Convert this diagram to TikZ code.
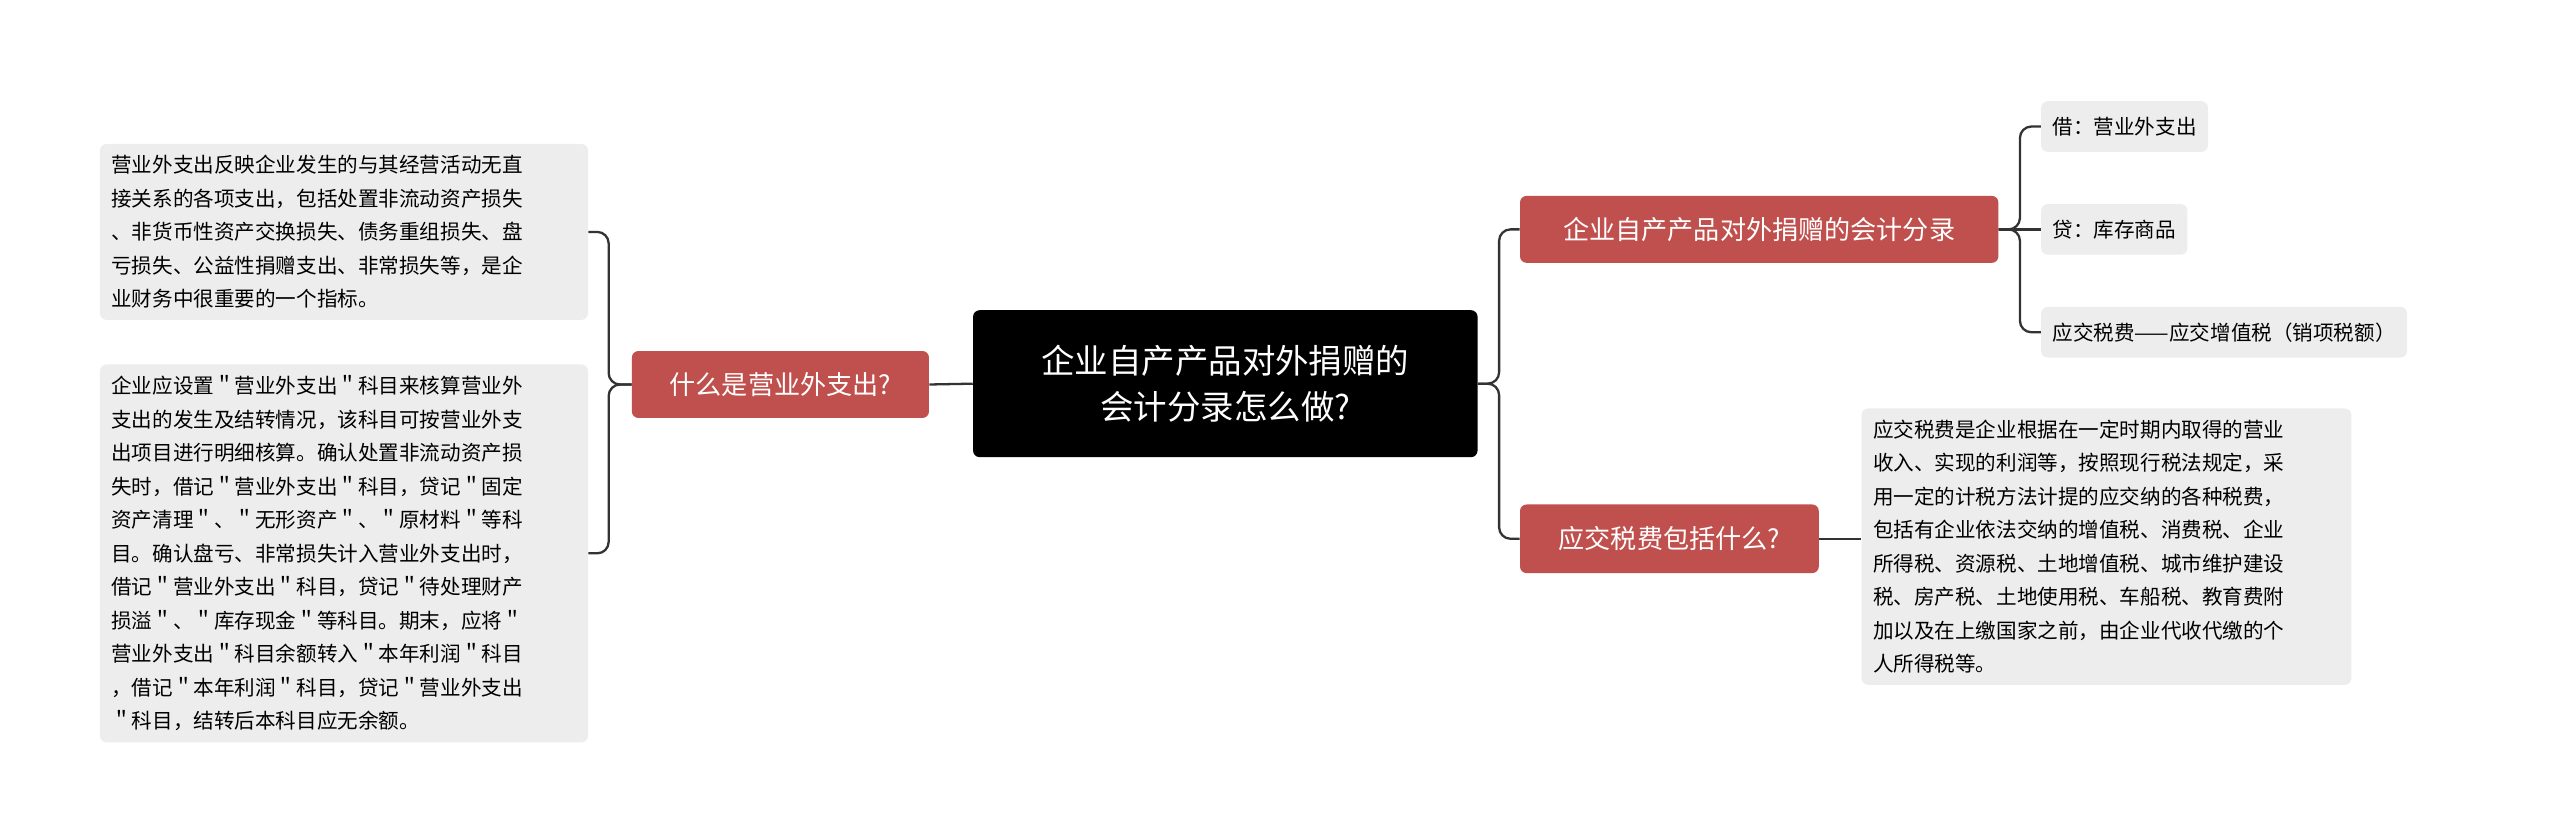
\documentclass[tikz,border=0pt]{standalone}
\usepackage{fontspec}
\setmainfont{Noto Sans CJK SC}
\begin{document}
\begin{tikzpicture}[x=1pt,y=-1pt,
  conn/.style={draw=black!80,line width=1.4pt,rounded corners=7pt},
  redbox/.style={fill=red!55!black!75!white,fill=black!0,draw=none,rounded corners=4pt,text=white,font=\fontsize{16}{20}\selectfont},
  leaf/.style={fill=black!7,rounded corners=4pt,align=left,font=\fontsize{12.6}{20.5}\selectfont,inner sep=7pt,anchor=north west}]
\definecolor{rb}{HTML}{C0504D}
\tikzset{redbox/.append style={fill=rb}}
\useasboundingbox (0,0) rectangle (1568,500);
\node[fill=black,rounded corners=4pt,text=white,align=center,minimum width=309pt,minimum height=90pt,font=\fontsize{20.5}{28}\selectfont] (root) at (750.5,235) {企业自产产品对外捐赠的\\会计分录怎么做?};
\node[redbox,minimum width=182pt,minimum height=41pt] (lb) at (478,235.5) {什么是营业外支出?};
\node[redbox,minimum width=293pt,minimum height=41pt] (rb1) at (1077.5,140.5) {企业自产产品对外捐赠的会计分录};
\node[redbox,minimum width=183pt,minimum height=42pt] (rb2) at (1022.5,330) {应交税费包括什么?};
\node[leaf,text width=285pt,minimum height=105pt] (l1) at (61,88) {营业外支出反映企业发生的与其经营活动无直\\接关系的各项支出，包括处置非流动资产损失\\、非货币性资产交换损失、债务重组损失、盘\\亏损失、公益性捐赠支出、非常损失等，是企\\业财务中很重要的一个指标。};
\node[leaf,text width=285pt,minimum height=215pt] (l2) at (61,223) {企业应设置＂营业外支出＂科目来核算营业外\\支出的发生及结转情况，该科目可按营业外支\\出项目进行明细核算。确认处置非流动资产损\\失时，借记＂营业外支出＂科目，贷记＂固定\\资产清理＂、＂无形资产＂、＂原材料＂等科\\目。确认盘亏、非常损失计入营业外支出时，\\借记＂营业外支出＂科目，贷记＂待处理财产\\损溢＂、＂库存现金＂等科目。期末，应将＂\\营业外支出＂科目余额转入＂本年利润＂科目\\，借记＂本年利润＂科目，贷记＂营业外支出\\＂科目，结转后本科目应无余额。};
\node[leaf,text width=286pt,minimum height=160pt] (r4) at (1140,250) {应交税费是企业根据在一定时期内取得的营业\\收入、实现的利润等，按照现行税法规定，采\\用一定的计税方法计提的应交纳的各种税费，\\包括有企业依法交纳的增值税、消费税、企业\\所得税、资源税、土地增值税、城市维护建设\\税、房产税、土地使用税、车船税、教育费附\\加以及在上缴国家之前，由企业代收代缴的个\\人所得税等。};
\node[leaf,anchor=west,minimum height=31pt] (r1) at (1250,77.5) {借：营业外支出};
\node[leaf,anchor=west,minimum height=31pt] (r2) at (1250,140.5) {贷：库存商品};
\node[leaf,anchor=west,minimum height=31pt] (r3) at (1250,203.5) {应交税费——应交增值税（销项税额）};
\draw[conn] (root.west) -- (lb.east);
\draw[conn] (root.east) -- ++(13,0) |- (rb1.west);
\draw[conn] (root.east) -- ++(13,0) |- (rb2.west);
\draw[conn] (lb.west) -- ++(-14,0) |- (l1.east);
\draw[conn] (lb.west) -- ++(-14,0) |- (l2.east);
\draw[conn] (rb1.east) -- ++(13,0) |- (r1.west);
\draw[conn] (rb1.east) -- (r2.west);
\draw[conn] (rb1.east) -- ++(13,0) |- (r3.west);
\draw[conn] (rb2.east) -- (rb2.east -| r4.west);
\end{tikzpicture}
\end{document}
